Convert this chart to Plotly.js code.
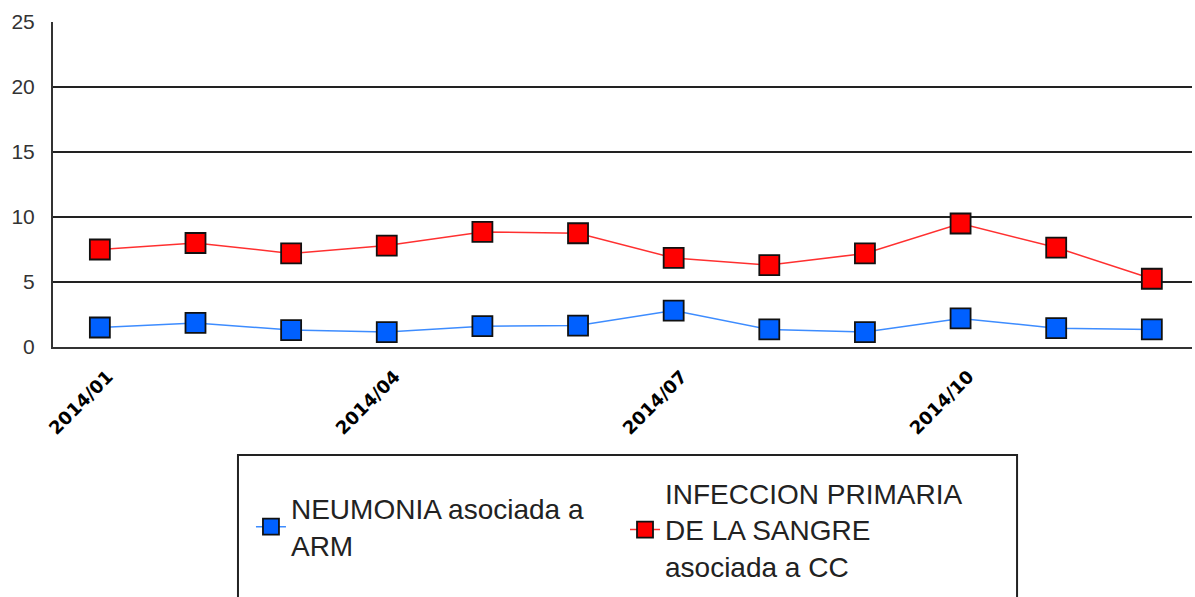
<!DOCTYPE html>
<html>
<head>
<meta charset="utf-8">
<script src="https://cdn.plot.ly/plotly-3.0.1.min.js"></script>
<style>
  html, body { margin: 0; padding: 0; background: #fff; }
  #chart { width: 1195px; height: 597px; }
</style>
</head>
<body>
<div id="chart"></div>
<script>
// months of 2014, one point each
const months = ['2014/01','2014/02','2014/03','2014/04','2014/05','2014/06',
                '2014/07','2014/08','2014/09','2014/10','2014/11','2014/12'];
const shownTicks = ['2014/01','2014/04','2014/07','2014/10'];

const neumonia = [1.5, 1.85, 1.3, 1.15, 1.6, 1.65, 2.8, 1.35, 1.15, 2.2, 1.45, 1.35];
const infeccion = [7.5, 8.0, 7.2, 7.8, 8.85, 8.75, 6.85, 6.3, 7.2, 9.5, 7.65, 5.25];

const yTicks = [0, 5, 10, 15, 20, 25];

var traces = [
    {
        x: months, y: neumonia,
        type: 'scatter', mode: 'lines+markers',
        name: 'NEUMONIA asociada a<br>ARM',
        legend: 'legend',
        line: {color: '#3d8cff', width: 1.5},
        marker: {symbol: 'square', size: 20, color: '#0060ff', line: {color: '#111', width: 1.8}}
    },
    {
        x: months, y: infeccion,
        type: 'scatter', mode: 'lines+markers',
        name: 'INFECCION PRIMARIA<br>DE LA SANGRE<br>asociada a CC',
        legend: 'legend2',
        line: {color: '#ff3030', width: 1.5},
        marker: {symbol: 'square', size: 20, color: '#ff0000', line: {color: '#111', width: 1.8}}
    }
];

var legendStyle = {
    xanchor: 'left',
    yanchor: 'middle',
    valign: 'middle',
    bgcolor: 'rgba(0,0,0,0)',
    borderwidth: 0,
    font: {size: 28, color: '#222'}
};

var layout = {
    width: 1195,
    height: 597,
    paper_bgcolor: '#fff',
    plot_bgcolor: '#fff',
    font: {family: 'Liberation Sans, Arial, sans-serif', color: '#222'},
    margin: {l: 53, r: 3, t: 22, b: 250},
    showlegend: true,
    xaxis: {
        type: 'category',
        categoryorder: 'array',
        categoryarray: months,
        range: [-0.49, 11.42],
        tickvals: shownTicks,
        ticktext: shownTicks,
        tickangle: -45,
        tickfont: {family: 'DejaVu Sans, sans-serif', size: 18, weight: 'bold', color: '#000'},
        showgrid: false,
        zeroline: false,
        showline: true,
        linecolor: '#333',
        linewidth: 2,
        ticks: '',
        ticklabelstandoff: 10,
        ticklabelshift: 8
    },
    yaxis: {
        range: [0, 25],
        tickvals: yTicks,
        tickfont: {size: 21, color: '#333'},
        showgrid: true,
        gridcolor: '#222',
        gridwidth: 1.5,
        zeroline: false,
        showline: true,
        linecolor: '#333',
        linewidth: 2,
        ticks: '',
        ticklabelstandoff: 12
    },
    legend: Object.assign({x: 0.1738, y: -0.553}, legendStyle),
    legend2: Object.assign({x: 0.5022, y: -0.563}, legendStyle),
    shapes: [{
        type: 'rect', xref: 'paper', yref: 'paper',
        x0: 0.1624, x1: 0.8464, y0: -0.3323, y1: -0.85,
        line: {color: '#222', width: 2},
        fillcolor: 'rgba(0,0,0,0)'
    }]
};

Plotly.newPlot('chart', traces, layout, {displayModeBar: false, staticPlot: true});
</script>
</body>
</html>
